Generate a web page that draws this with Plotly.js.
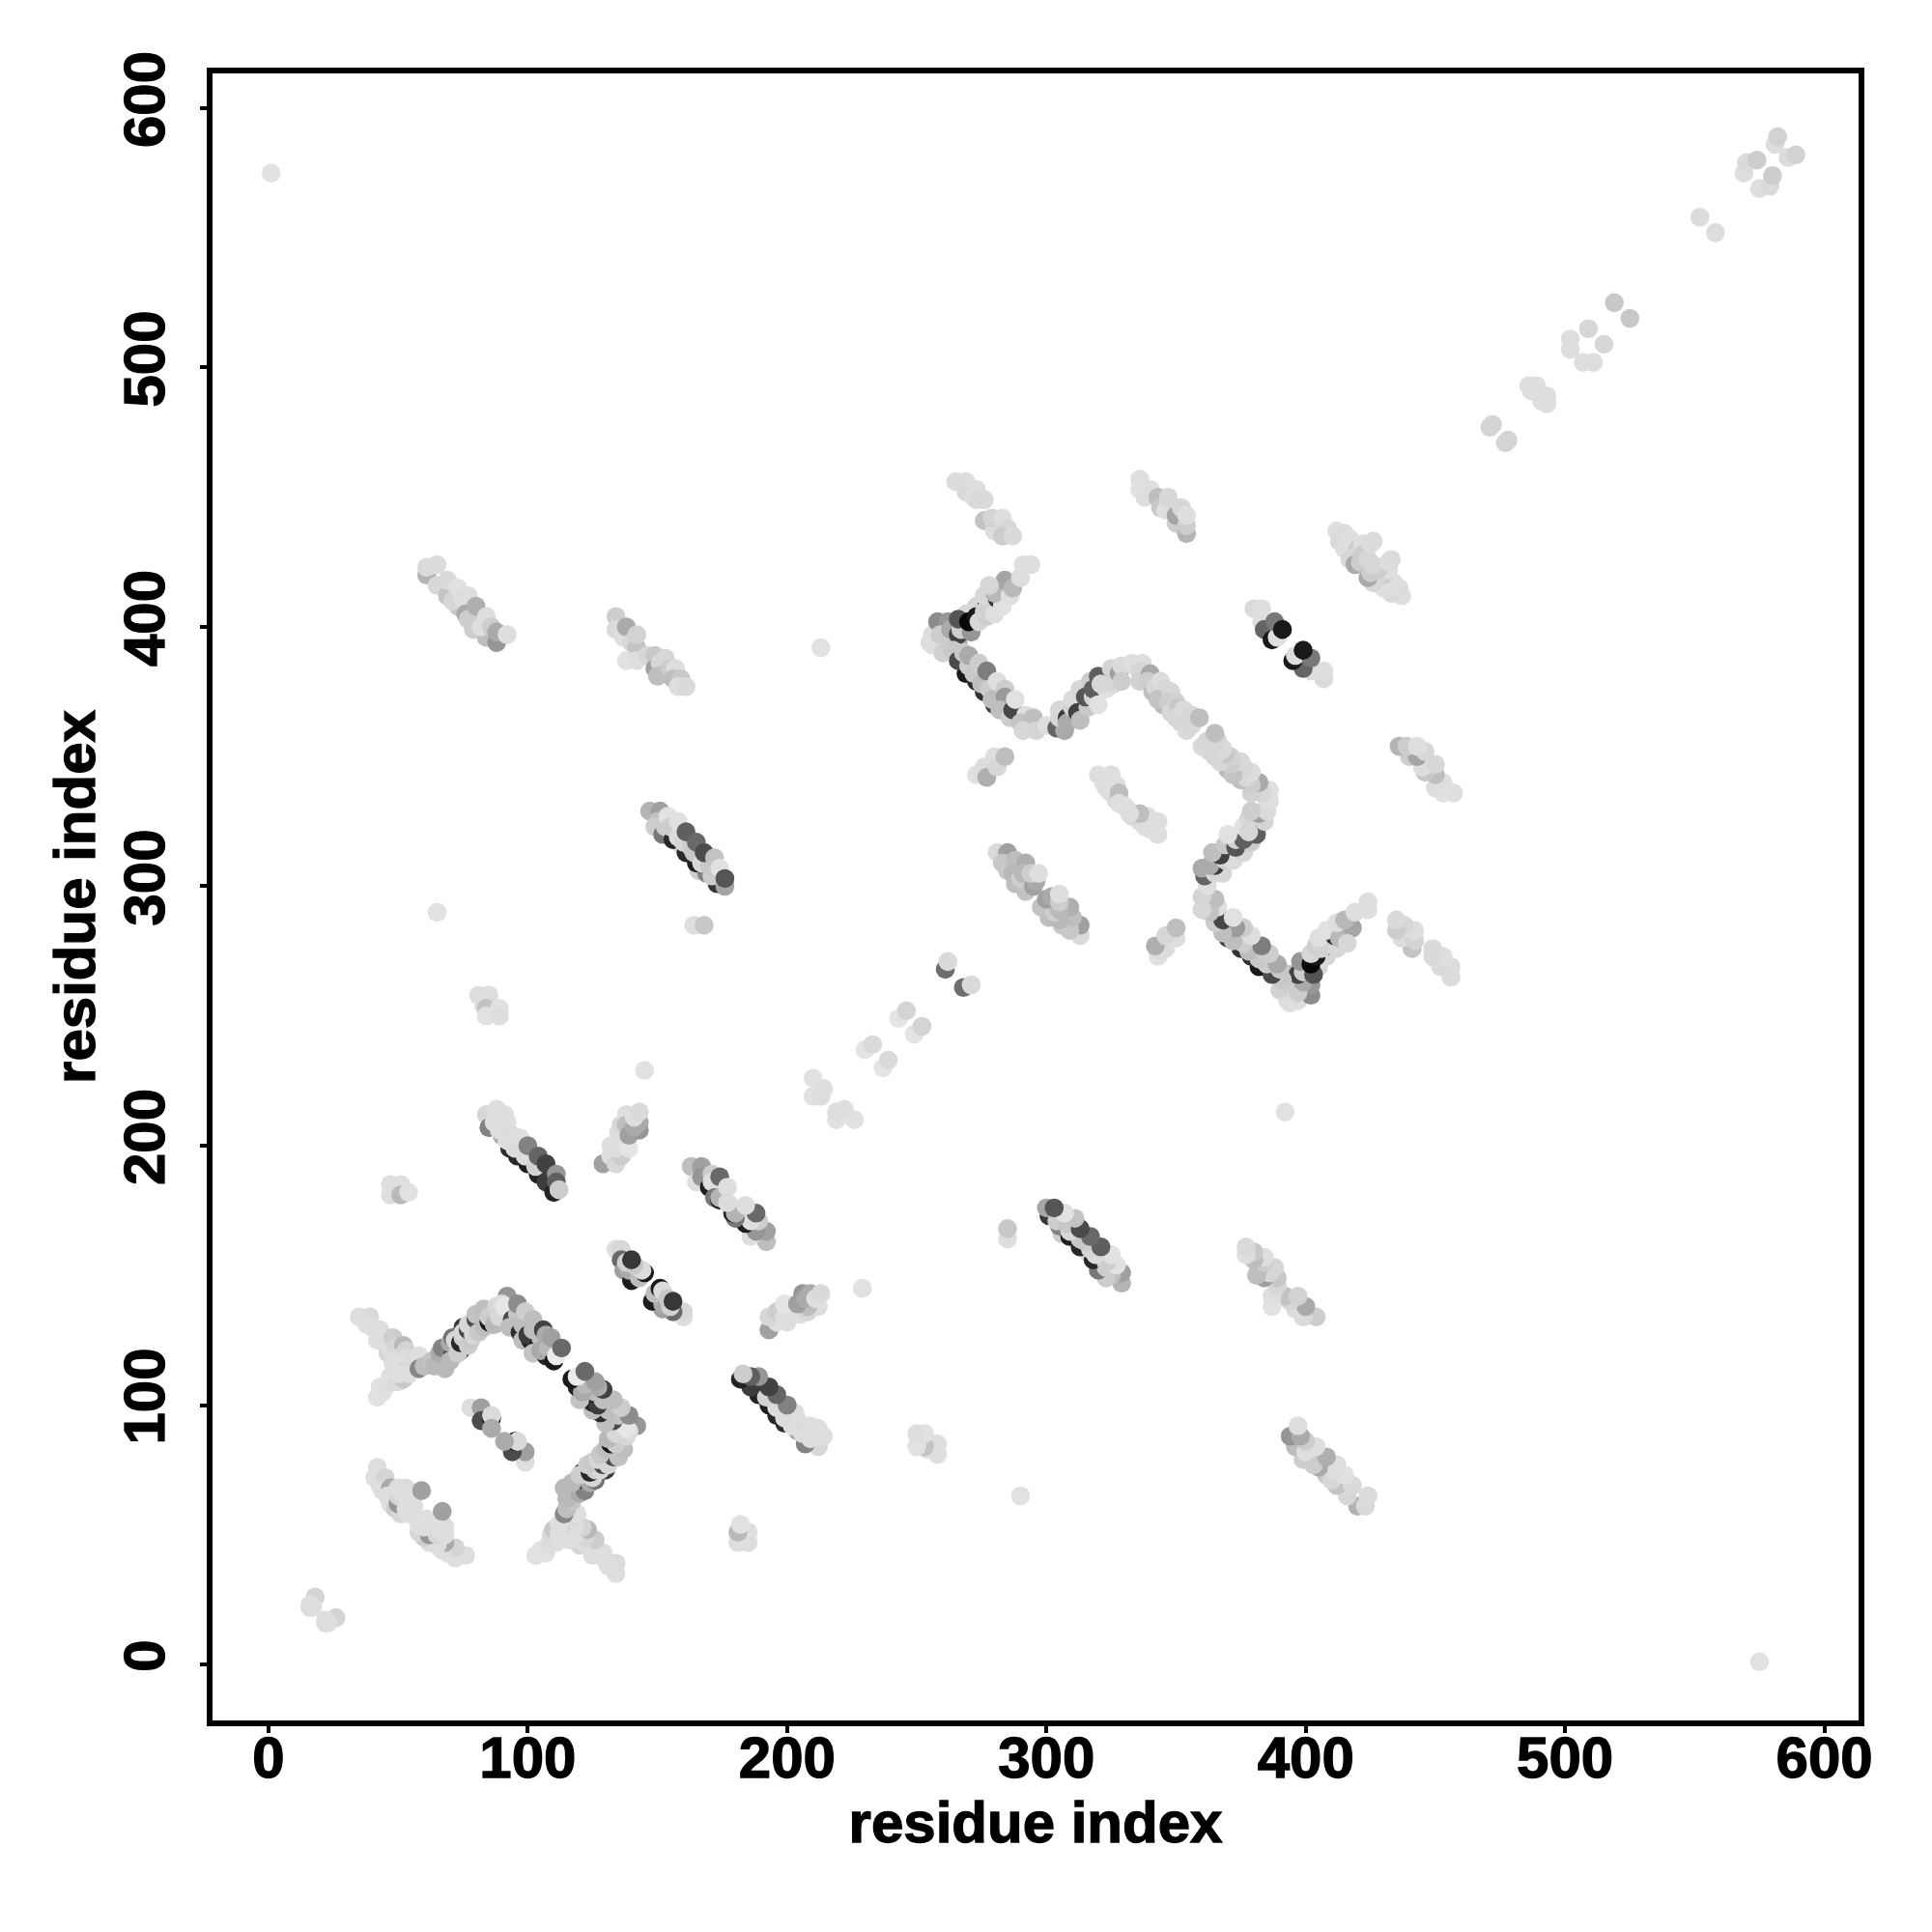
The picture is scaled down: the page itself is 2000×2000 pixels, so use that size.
<!DOCTYPE html>
<html><head><meta charset="utf-8"><script src="https://cdn.plot.ly/plotly-3.0.1.min.js"></script>
<style>html,body{margin:0;padding:0;background:#fff}
.xtick text,.ytick text,.xtitle,.ytitle{stroke:#000;stroke-width:1.3px}</style></head>
<body><div id="chart" style="width:2000px;height:2000px"></div>
<script>
// contacts [residue i, residue j, grey level]; the map is symmetric so only i<j is listed
const xTicks=[0,100,200,300,400,500,600];
const axisTitle="residue index";
const farPair=[[1,575,225],[213,392,225],[65,290,225],[145,229,225]];
const tip=[[16,22,218],[18,26,212],[16,23,222],[17,22,222]];
const wingUp=[[35,134,222],[39,134,218],[38,131,222],[40,130,222],[43,129,222],[42,125,222],[44,126,222],[46,120,215],[47,122,222],[48,126,205],[49,122,215],[52,123,185],[50,118,222],[53,121,212],[53,118,220],[52,115,222],[48,116,222],[55,116,222],[57,118,218],[58,119,222]];
const wingDown=[[42,103,225],[43,107,225],[44,105,225],[46,108,222],[48,109,218],[47,111,222],[50,109,218],[52,110,200],[52,113,215],[50,112,222],[54,112,222]];
const rise=[[58,114,135],[60,115,190],[63,117,195],[64,115,185],[67,116,185],[68,114,185],[66,120,170],[67,122,130],[71,119,60],[70,117,185],[70,124,170],[71,126,115],[74,121,40],[73,120,205],[72,125,215],[74,124,40],[75,126,205],[75,130,60],[75,128,215],[77,123,205],[78,125,200],[77,129,70],[77,131,215],[79,127,215],[80,133,75],[80,135,195],[81,128,200],[83,130,190],[83,137,190],[85,132,25],[85,134,205],[87,131,185],[88,138,215],[90,136,195],[89,134,215],[92,142,150],[90,139,220]];
const fall=[[91,138,230],[94,133,75],[96,135,195],[93,130,190],[97,128,45],[98,131,190],[96,139,140],[99,136,205],[98,125,190],[101,125,35],[100,127,60],[102,129,190],[104,123,40],[105,126,190],[102,120,195],[107,119,35],[105,121,170],[102,133,190],[106,129,65],[107,127,170],[108,122,185],[109,126,160],[110,117,25],[111,119,235],[113,122,105]];
const pocket=[[78,99,222],[82,99,160],[82,94,75],[86,95,15],[86,96,218],[86,91,170]];
const patchO=[[42,76,222],[41,72,222],[43,69,222],[45,72,212],[44,67,222],[47,68,170],[47,62,222],[48,64,205],[46,65,222],[49,60,205],[51,58,215],[50,62,150],[50,65,215],[53,60,222],[50,68,222],[54,58,222],[53,68,220],[54,63,222],[56,61,222],[59,67,160],[52,66,222]];
const bandG=[[84,212,215],[88,214,222],[91,212,222],[85,207,130],[87,209,222],[92,209,222],[90,204,170],[89,206,222],[93,199,45],[92,202,222],[94,204,220],[97,203,222],[96,196,40],[95,199,220],[100,193,30],[99,196,220],[104,189,35],[103,192,210],[107,186,60],[100,200,130],[104,196,100],[107,193,65],[111,189,150],[110,182,35],[111,186,95],[112,183,205]];
const bandH=[[129,193,160],[132,200,222],[132,196,222],[134,193,215],[136,196,205],[136,203,180],[134,199,222],[139,199,228],[135,205,222],[136,208,215],[138,212,222],[138,208,190],[139,204,160],[143,206,150],[143,209,170],[141,207,170],[141,211,222],[143,213,218]];
const bandI=[[47,185,222],[51,185,222],[47,181,222],[51,181,185],[54,182,225]];
const bandJ=[[163,192,190],[167,192,160],[165,186,222],[167,188,150],[171,189,205],[170,184,30],[171,186,222],[172,180,120],[174,179,35],[174,180,180],[174,188,105],[177,184,222],[178,177,220]];
const bandK=[[134,160,222],[136,160,215],[136,156,105],[137,152,160],[140,148,30],[139,152,170],[143,149,190],[145,151,25],[144,152,220],[138,155,210],[141,154,200],[140,156,55]];
const bandC=[[61,420,180],[61,423,218],[65,416,215],[65,424,220],[69,412,195],[69,418,218],[73,408,200],[71,410,215],[73,415,225],[75,411,222],[76,405,170],[77,412,222],[80,405,180],[77,403,205],[80,408,175],[79,399,205],[84,396,190],[82,400,222],[84,404,222],[88,394,150],[86,400,205],[88,398,170],[92,397,222]];
const bandD=[[134,404,205],[134,399,218],[137,396,222],[138,400,170],[140,394,215],[142,392,195],[142,397,210],[138,387,225],[142,387,222],[146,389,215],[149,389,200],[149,384,160],[151,386,215],[150,381,190],[153,388,215],[153,382,190],[155,384,205],[157,384,222],[156,380,190],[159,380,200],[158,377,222],[161,377,218]];
const bandE=[[147,329,180],[151,329,160],[150,325,190],[149,323,205],[152,320,120],[153,323,205],[159,316,215],[156,318,40],[154,327,225],[155,323,205],[161,313,40],[158,325,225],[158,319,220],[160,317,215],[166,306,205],[165,309,30],[163,315,205],[164,313,200],[169,305,130],[167,309,215],[173,301,55],[171,304,205],[170,308,200],[176,300,165],[161,321,95],[165,317,105],[168,313,75],[172,311,195],[174,307,225],[176,303,85]];
const bandF=[[164,285,222],[168,285,200]];
const bandB=[[81,258,222],[85,258,222],[83,254,222],[84,253,195],[89,253,225],[84,250,225],[89,250,222]];
const helixDiag=[[210,226,225],[210,219,225],[214,222,222],[213,219,222],[230,237,228],[233,239,218],[243,249,228],[246,252,212],[261,268,110],[262,271,218]];
const bandV1=[[265,456,220],[269,456,220],[269,452,218],[272,450,222],[273,453,222],[273,449,218],[276,449,218],[276,441,195],[280,437,220],[279,442,212],[283,442,222],[285,438,215],[283,435,205],[287,435,218]];
const bandV2=[[336,457,222],[336,453,225],[340,453,222],[338,450,222],[343,450,190],[344,446,200],[346,445,222],[347,450,215],[350,440,205],[350,443,165],[352,446,215],[354,436,180],[354,439,205],[354,443,222]];
const riseS=[[256,397,222],[255,394,222],[258,402,140],[262,402,150],[260,394,110],[256,393,222],[259,397,205],[263,399,170],[260,390,210],[263,392,205],[266,394,185],[266,397,65],[267,399,205],[269,405,215],[266,403,85],[271,398,150],[270,402,8],[273,408,215],[273,404,25],[274,402,215],[277,408,40],[277,404,205],[276,406,210],[276,412,215],[280,405,222],[281,411,55],[283,408,225],[280,413,185],[284,418,165],[286,412,222],[278,416,215],[287,415,185],[290,419,222],[291,424,222],[294,424,222]];
const fallS=[[264,391,200],[269,382,25],[266,387,75],[268,390,200],[270,385,205],[273,379,45],[270,389,170],[272,382,200],[276,375,50],[274,386,205],[275,378,190],[277,383,125],[280,370,60],[278,376,205],[281,379,222],[279,372,190],[284,376,205],[284,373,155],[282,368,190],[286,365,205],[287,368,70],[288,372,225],[292,366,222],[290,363,195],[295,365,190],[291,360,215],[296,360,212]];
const riseS2=[[300,362,222],[304,361,100],[307,360,170],[305,365,215],[305,368,215],[308,365,60],[308,363,170],[310,369,210],[310,372,220],[312,367,65],[313,364,190],[313,376,215],[316,369,200],[315,373,85],[317,379,205],[318,373,210],[318,376,95],[320,370,225],[320,381,95],[323,376,225],[321,378,215],[325,384,212],[326,378,215],[328,382,160],[329,385,218],[329,379,205]];
const ridgeS=[[333,386,222],[337,386,222],[335,384,222],[336,383,215],[336,379,210],[340,382,170],[339,379,205],[341,375,190],[342,377,215],[344,379,220],[345,370,185],[345,373,165],[346,376,215],[343,372,195],[348,375,215],[347,371,205],[348,367,215],[350,371,210],[351,369,200],[350,365,215],[353,368,218],[352,363,215],[354,360,218],[356,362,215],[356,366,215],[359,365,190]];
const bandX=[[281,313,218],[285,313,160],[283,309,200],[285,306,200],[288,301,190],[288,310,190],[287,305,185],[292,298,195],[292,309,175],[290,303,205],[291,305,185],[295,300,160],[296,302,170],[294,305,205],[297,305,222]];
const bandY=[[320,343,222],[325,343,222],[322,340,222],[325,336,218],[323,338,222],[327,339,222],[327,333,215],[328,336,190],[328,332,222],[330,331,222]];
const bandW=[[273,343,225],[276,346,222],[275,344,220],[277,342,175],[280,350,222],[281,346,215],[284,350,190]];
const bandZ=[[380,407,218],[383,407,222],[383,402,222],[384,399,100],[387,395,25],[389,396,222],[388,402,120],[391,399,25]];
const bandT=[[412,437,222],[413,433,218],[415,436,220],[417,434,222],[415,430,222],[426,433,218],[420,430,205],[417,426,215],[419,427,215],[419,424,170],[421,425,205],[422,432,222],[422,428,205],[424,426,215],[425,432,220]];
const farDiag=[[472,478,212],[471,477,212],[486,493,222],[489,493,222],[487,491,222],[502,511,222],[502,507,222],[509,515,215],[519,525,200],[552,558,220],[569,575,222],[570,579,218],[574,580,205],[581,586,220],[582,589,210]];

const groups=[farPair,tip,wingUp,wingDown,rise,fall,pocket,patchO,bandG,bandH,bandI,bandJ,bandK,bandC,bandD,bandE,bandF,bandB,helixDiag,bandV1,bandV2,riseS,fallS,riseS2,ridgeS,bandX,bandY,bandW,bandZ,bandT,farDiag];
const xs=[],ys=[],cs=[];
for(const g of groups){
  for(const [i,j,s] of g){xs.push(i);ys.push(j);cs.push(`rgb(${s},${s},${s})`);}
  for(const [i,j,s] of g){xs.push(j);ys.push(i);cs.push(`rgb(${s},${s},${s})`);}
}
const bold={family:'"Liberation Sans"',size:60,weight:700,color:'#000'};
const axisBase={showgrid:false,zeroline:false,showline:true,mirror:true,linecolor:'#000',linewidth:6,
  ticks:'outside',ticklen:7,tickwidth:4,tickcolor:'#000',tickmode:'array',tickvals:xTicks,ticktext:xTicks.map(String),
  tickfont:bold};
Plotly.newPlot('chart',[{type:'scatter',mode:'markers',x:xs,y:ys,marker:{size:19.6,color:cs,line:{width:0}},hoverinfo:'skip'}],{
  width:2000,height:2000,paper_bgcolor:'#fff',plot_bgcolor:'#fff',showlegend:false,
  margin:{l:219.5,r:76,t:76,b:219,pad:0},
  xaxis:Object.assign({},axisBase,{range:[-21.6,613.2],ticklabelstandoff:-26,title:{text:axisTitle,standoff:13,font:bold}}),
  yaxis:Object.assign({},axisBase,{range:[-21.6,613.4],tickangle:-90,ticklabelstandoff:13,title:{text:axisTitle,standoff:0,font:bold}})
},{displayModeBar:false,staticPlot:true});
</script></body></html>
